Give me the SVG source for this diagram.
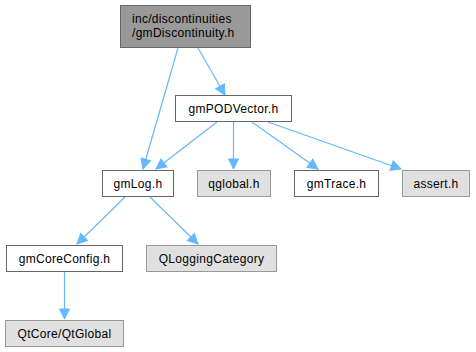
<svg xmlns="http://www.w3.org/2000/svg" width="476" height="352" viewBox="0 0 476 352">
<defs>
<marker id="ah" markerUnits="userSpaceOnUse" markerWidth="12" markerHeight="12" viewBox="0 0 12 12" refX="11" refY="6" orient="auto">
<path d="M1,1 L11,6 L1,11 Z" fill="#63b8ff" stroke="#63b8ff"/>
</marker>
</defs>
<style>
text { font-family: "Liberation Sans", Arial, sans-serif; font-size: 12px; letter-spacing: 0.3px; fill: #000; }
.root { fill: #999999; stroke: #666666; stroke-width: 1; }
.node { fill: #ffffff; stroke: #666666; stroke-width: 1; }
.ext { fill: #e0e0e0; stroke: #999999; stroke-width: 1; }
.edge { fill: none; stroke: #63b8ff; stroke-width: 1.2; marker-end: url(#ah); }
.c { text-anchor: middle; }
</style>
<rect width="476" height="352" fill="#ffffff"/>
<g id="edges">
<path class="edge" d="M178,48 L143,169"/>
<path class="edge" d="M198,48 L225,95"/>
<path class="edge" d="M217,122 L156,169"/>
<path class="edge" d="M233.5,122 L233.5,169"/>
<path class="edge" d="M252,122 L318,169"/>
<path class="edge" d="M268,122 L401,169"/>
<path class="edge" d="M125,197 L77,244"/>
<path class="edge" d="M150,197 L198,244"/>
<path class="edge" d="M64.5,272 L64.5,319"/>
</g>
<g id="n_root">
<rect class="root" x="120.5" y="5.5" width="130" height="42"/>
<text x="132" y="23">inc/discontinuities</text>
<text x="132" y="37">/gmDiscontinuity.h</text>
</g>
<g id="n_gmPODVector">
<rect class="node" x="175.5" y="95.5" width="116" height="26"/>
<text class="c" x="233.5" y="112.5">gmPODVector.h</text>
</g>
<g id="n_gmLog">
<rect class="node" x="102.5" y="170.5" width="71" height="26"/>
<text class="c" x="138" y="187.5">gmLog.h</text>
</g>
<g id="n_qglobal">
<rect class="ext" x="197.5" y="170.5" width="73" height="26"/>
<text class="c" x="234" y="187.5">qglobal.h</text>
</g>
<g id="n_gmTrace">
<rect class="node" x="294.5" y="170.5" width="84" height="26"/>
<text class="c" x="336.5" y="187.5">gmTrace.h</text>
</g>
<g id="n_assert">
<rect class="ext" x="402.5" y="170.5" width="67" height="26"/>
<text class="c" x="436" y="187.5">assert.h</text>
</g>
<g id="n_gmCoreConfig">
<rect class="node" x="6.5" y="245.5" width="116" height="26"/>
<text class="c" x="64.5" y="262.5">gmCoreConfig.h</text>
</g>
<g id="n_QLoggingCategory">
<rect class="ext" x="146.5" y="245.5" width="130" height="26"/>
<text class="c" x="211.5" y="262.5">QLoggingCategory</text>
</g>
<g id="n_QtGlobal">
<rect class="ext" x="5.5" y="320.5" width="118" height="26"/>
<text class="c" x="64.5" y="337.5">QtCore/QtGlobal</text>
</g>
</svg>
